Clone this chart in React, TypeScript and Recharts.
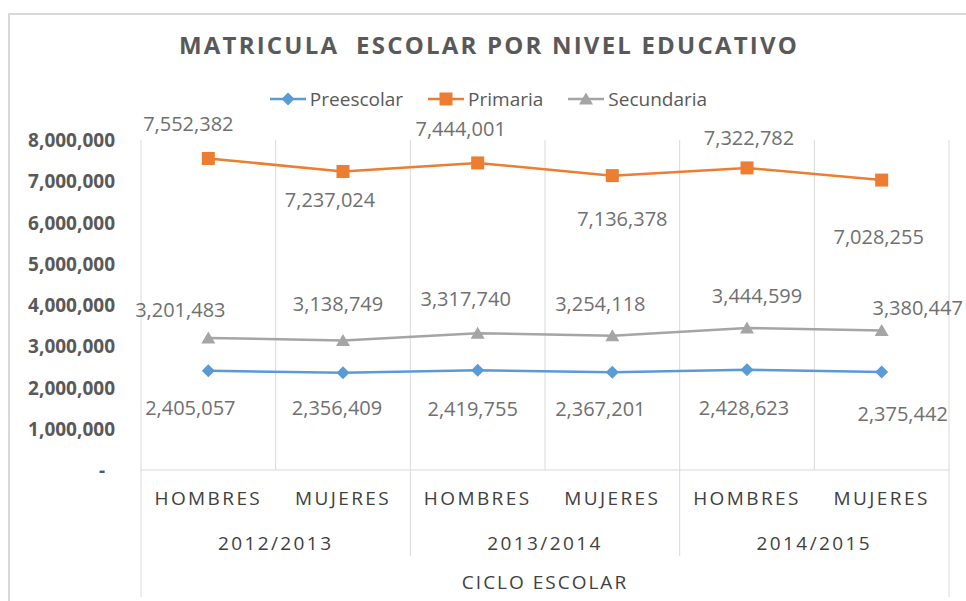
import React from "react";
import {
  LineChart,
  Line,
  XAxis,
  YAxis,
  CartesianGrid,
  Legend,
  LabelList,
} from "recharts";

const genero = ["HOMBRES", "MUJERES", "HOMBRES", "MUJERES", "HOMBRES", "MUJERES"];
const ciclos = ["2012/2013", "2013/2014", "2014/2015"];
const preescolar = [2405057, 2356409, 2419755, 2367201, 2428623, 2375442];
const primaria = [7552382, 7237024, 7444001, 7136378, 7322782, 7028255];
const secundaria = [3201483, 3138749, 3317740, 3254118, 3444599, 3380447];
const yTicks = [0, 1000000, 2000000, 3000000, 4000000, 5000000, 6000000, 7000000, 8000000];

const data = genero.map((g, i) => ({
  genero: g,
  ciclo: ciclos[Math.floor(i / 2)],
  Preescolar: preescolar[i],
  Primaria: primaria[i],
  Secundaria: secundaria[i],
}));

// hand placed data labels, as in the original sheet (dx, dy from the point)
const labelOffsets: Record<string, number[][]> = {
  Preescolar: [[-18, 37], [-6, 35], [-5, 38], [-12, 36], [-3, 38], [21, 41]],
  Primaria: [[-20, -35], [-13, 28], [-17, -34], [10, 43], [2, -30], [-3, 56]],
  Secundaria: [[-28, -28], [-5, -37], [-12, -35], [-12, -32], [10, -32], [36, -23]],
};

const FONT = "'Open Sans', sans-serif";
const BLUE = "#5B9BD5";
const ORANGE = "#ED7D31";
const GRAY = "#A5A5A5";
const GRID = "#D9D9D9";
const BAND = 808 / 6;

const fmt = (v: number) => v.toLocaleString("en-US");

const makeLabel = (serie: string) => (props: any) => {
  const { x, y, value, index } = props;
  const [dx, dy] = labelOffsets[serie][index] || [0, 0];
  return (
    <text
      x={x + dx}
      y={y + dy}
      textAnchor="middle"
      dominantBaseline="central"
      fill="#707070"
      fontSize={20}
      fontFamily={FONT}
    >
      {fmt(value)}
    </text>
  );
};

const Diamond = ({ cx, cy }: any) => (
  <path d={`M${cx},${cy - 6.5}L${cx + 6.5},${cy}L${cx},${cy + 6.5}L${cx - 6.5},${cy}Z`} fill={BLUE} />
);
const Square = ({ cx, cy }: any) => (
  <rect x={cx - 6.5} y={cy - 6.5} width={13} height={13} fill={ORANGE} />
);
const Triangle = ({ cx, cy }: any) => (
  <path d={`M${cx},${cy - 6.5}L${cx + 7},${cy + 5.5}L${cx - 7},${cy + 5.5}Z`} fill={GRAY} />
);

const YTick = ({ x, y, payload }: any) => (
  <text
    x={payload.value === 0 ? x - 10 : x}
    y={y}
    textAnchor="end"
    dominantBaseline="central"
    fill="#595959"
    fontSize={19}
    fontWeight="bold"
    fontFamily={FONT}
  >
    {payload.value === 0 ? "-" : fmt(payload.value)}
  </text>
);

const XTick = ({ x, y, payload, index }: any) => {
  const left = x - BAND / 2;
  const right = x + BAND / 2;
  return (
    <g>
      <text
        x={x}
        y={y + 28}
        textAnchor="middle"
        dominantBaseline="central"
        fill="#404040"
        fontSize={19}
        letterSpacing={2.4}
        fontFamily={FONT}
      >
        {payload.value}
      </text>
      {index % 2 === 0 && (
        <>
          <text
            x={right}
            y={y + 73}
            textAnchor="middle"
            dominantBaseline="central"
            fill="#404040"
            fontSize={19}
            letterSpacing={2.4}
            fontFamily={FONT}
          >
            {ciclos[index / 2]}
          </text>
          <line x1={left} x2={left} y1={y} y2={index === 0 ? y + 127 : y + 86} stroke={GRID} />
        </>
      )}
      {index === 5 && <line x1={right} x2={right} y1={y} y2={y + 127} stroke={GRID} />}
    </g>
  );
};

const legendItems = [
  { name: "Preescolar", color: BLUE, Shape: Diamond },
  { name: "Primaria", color: ORANGE, Shape: Square },
  { name: "Secundaria", color: GRAY, Shape: Triangle },
];

const LegendContent = () => (
  <div style={{ display: "flex", justifyContent: "center", alignItems: "center", paddingLeft: 36 }}>
    {legendItems.map(({ name, color, Shape }) => (
      <div key={name} style={{ display: "flex", alignItems: "center", marginRight: 25 }}>
        <svg width={36} height={16}>
          <line x1={0} x2={36} y1={8} y2={8} stroke={color} strokeWidth={2.5} />
          <Shape cx={18} cy={8} />
        </svg>
        <span style={{ marginLeft: 4, fontSize: 19, color: "#595959", fontFamily: FONT }}>{name}</span>
      </div>
    ))}
  </div>
);

export default function App() {
  return (
    <div style={{ position: "absolute", left: 0, top: 0, width: 966, height: 601, background: "#fff", overflow: "hidden" }}>
      <div
        style={{
          position: "absolute",
          left: 8,
          top: 13,
          width: 980,
          height: 620,
          borderTop: `2px solid ${GRID}`,
          borderLeft: `2px solid ${GRID}`,
        }}
      />
      <div
        style={{
          position: "absolute",
          left: 0,
          top: 28,
          width: 978,
          textAlign: "center",
          fontFamily: FONT,
          fontSize: 24,
          fontWeight: "bold",
          letterSpacing: 2.2,
          color: "#595959",
          whiteSpace: "pre",
        }}
      >
        {"MATRICULA  ESCOLAR POR NIVEL EDUCATIVO"}
      </div>
      <div style={{ position: "absolute", left: 0, top: 0 }}>
        <LineChart width={966} height={601} data={data} margin={{ top: 114, right: 17, left: 0, bottom: 0 }}>
          <CartesianGrid
            horizontal={false}
            stroke={GRID}
            verticalCoordinatesGenerator={({ offset }: any) =>
              Array.from({ length: 7 }, (_, i) => offset.left + (i * offset.width) / 6)
            }
          />
          <XAxis
            dataKey="genero"
            interval={0}
            height={131}
            padding={{ left: BAND / 2, right: BAND / 2 }}
            tickLine={false}
            tickSize={0}
            tickMargin={0}
            axisLine={{ stroke: GRID }}
            tick={<XTick />}
            label={{
              value: "CICLO ESCOLAR",
              position: "insideBottom",
              offset: 12,
              fill: "#404040",
              fontSize: 19,
              fontFamily: FONT,
              letterSpacing: 2,
            }}
          />
          <YAxis
            width={141}
            domain={[0, 8000000]}
            ticks={yTicks}
            axisLine={false}
            tickLine={false}
            tickSize={0}
            tickMargin={26}
            tick={<YTick />}
          />
          <Legend
            verticalAlign="top"
            content={<LegendContent />}
            wrapperStyle={{ position: "absolute", top: 86, left: 0, width: 966 }}
          />
          <Line
            dataKey="Preescolar"
            stroke={BLUE}
            strokeWidth={2.5}
            dot={<Diamond />}
            isAnimationActive={false}
          >
            <LabelList dataKey="Preescolar" content={makeLabel("Preescolar")} />
          </Line>
          <Line
            dataKey="Primaria"
            stroke={ORANGE}
            strokeWidth={2.5}
            dot={<Square />}
            isAnimationActive={false}
          >
            <LabelList dataKey="Primaria" content={makeLabel("Primaria")} />
          </Line>
          <Line
            dataKey="Secundaria"
            stroke={GRAY}
            strokeWidth={2.5}
            dot={<Triangle />}
            isAnimationActive={false}
          >
            <LabelList dataKey="Secundaria" content={makeLabel("Secundaria")} />
          </Line>
        </LineChart>
      </div>
    </div>
  );
}
